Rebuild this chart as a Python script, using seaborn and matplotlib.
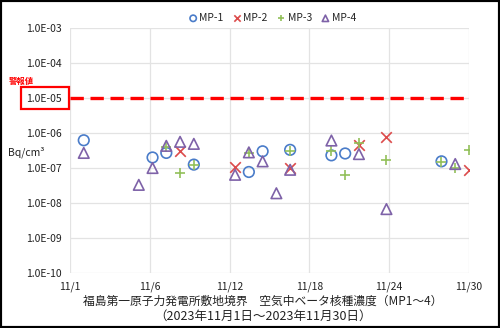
import matplotlib
matplotlib.use("Agg")
import matplotlib.pyplot as plt
import seaborn as sns
import pandas as pd
import numpy as np
from matplotlib.patches import Rectangle

# ---- data ----
mp1_dates = ["11/2", "11/7", "11/8", "11/10", "11/14", "11/15", "11/17", "11/20", "11/21", "11/28"]
mp1_vals = [6.2e-7, 2.0e-7, 2.7e-7, 1.25e-7, 7.7e-8, 3.0e-7, 3.3e-7, 2.3e-7, 2.6e-7, 1.55e-7]

mp2_dates = ["11/9", "11/13", "11/17", "11/22", "11/24", "11/30"]
mp2_vals = [3.1e-7, 1.04e-7, 1.0e-7, 4.6e-7, 7.7e-7, 8.9e-8]

mp3_dates = ["11/8", "11/9", "11/10", "11/14", "11/17", "11/20", "11/21", "11/22", "11/24", "11/28", "11/29", "11/30"]
mp3_vals = [4.0e-7, 7.2e-8, 1.25e-7, 2.7e-7, 3.1e-7, 3.0e-7, 6.4e-8, 5.2e-7, 1.65e-7, 1.5e-7, 1.0e-7, 3.3e-7]

mp4_dates = ["11/2", "11/6", "11/7", "11/8", "11/9", "11/10", "11/13", "11/14", "11/15", "11/16", "11/17", "11/20", "11/22", "11/24", "11/29"]
mp4_vals = [2.7e-7, 3.3e-8, 1.0e-7, 4.3e-7, 5.6e-7, 4.9e-7, 6.4e-8, 2.8e-7, 1.55e-7, 1.9e-8, 8.9e-8, 6.1e-7, 2.5e-7, 6.7e-9, 1.3e-7]

series_names = ["MP-1", "MP-2", "MP-3", "MP-4"]
alarm_value = 1.0e-5
x_tick_labels = ["11/1", "11/6", "11/12", "11/18", "11/24", "11/30"]
y_tick_labels = ["1.0E-10", "1.0E-09", "1.0E-08", "1.0E-07", "1.0E-06", "1.0E-05", "1.0E-04", "1.0E-03"]
y_unit = "Bq/cm³"
alarm_label = "警報値"
title_line1 = "福島第一原子力発電所敷地境界　空気中ベータ核種濃度（MP1～4）"
title_line2 = "（2023年11月1日～2023年11月30日）"

def to_days(dates):
    return [int(d.split("/")[1]) - 1 for d in dates]

frames = []
for name, d, v in zip(series_names, [mp1_dates, mp2_dates, mp3_dates, mp4_dates],
                      [mp1_vals, mp2_vals, mp3_vals, mp4_vals]):
    frames.append(pd.DataFrame({"day": to_days(d), "value": v, "series": name}))
df = pd.concat(frames, ignore_index=True)

# ---- styling ----
sns.set_theme(style="white")
plt.rcParams["font.family"] = ["Noto Sans CJK JP", "DejaVu Sans"]

colors = {"MP-1": "#4A7CC9", "MP-2": "#DC4B4B", "MP-3": "#92C05A", "MP-4": "#7E62A8"}
markers = {"MP-1": "o", "MP-2": "x", "MP-3": "+", "MP-4": "^"}

fig = plt.figure(figsize=(5.0, 3.28), dpi=100)
ax = fig.add_axes([0.14, 0.1677, 0.798, 0.7469])

for name in series_names:
    sub = df[df["series"] == name]
    m = markers[name]
    c = colors[name]
    if m in ("o", "^"):
        sns.scatterplot(data=sub, x="day", y="value", marker=m, s=58,
                        facecolor="none", edgecolor=c, linewidth=1.2,
                        ax=ax, label=name, zorder=3)
    else:
        sns.scatterplot(data=sub, x="day", y="value", marker=m, s=58,
                        color=c, linewidth=1.2, ax=ax, label=name, zorder=3)

ax.set_yscale("log")
ax.set_ylim(1e-10, 1e-3)
ax.set_xlim(0, 29)
ax.set_xticks(np.linspace(0, 29, len(x_tick_labels)))
ax.set_xticklabels(x_tick_labels)
ax.set_yticks([10.0 ** k for k in range(-10, -2)])
ax.set_yticklabels(y_tick_labels)
ax.minorticks_off()
ax.set_xlabel("")
ax.set_ylabel("")
ax.grid(True, color="#E3E3E3", linewidth=0.9)
for s in ax.spines.values():
    s.set_visible(False)
ax.tick_params(axis="both", length=0, labelsize=7.5, colors="#222222")
ax.tick_params(axis="y", pad=6)
ax.tick_params(axis="x", pad=6)

# alarm line
ax.axhline(alarm_value, color="#FF0000", linewidth=2.4, dashes=(4, 2), zorder=2)

# legend
handles, labels = ax.get_legend_handles_labels()
ax.legend(handles, labels, loc="center", bbox_to_anchor=(0.544, 0.945),
          bbox_transform=fig.transFigure, ncol=4, frameon=False, fontsize=7.5,
          handletextpad=0.1, columnspacing=0.8, markerscale=0.6, handlelength=1.0)

# texts
W, H = 500, 328
fig.text(8 / W, 1 - 152 / H, y_unit, fontsize=7.5, ha="left", va="center", color="#222222")
fig.text(9 / W, 1 - 81 / H, alarm_label, fontsize=6, ha="left", va="center",
         color="#FF0000", fontweight="bold")
fig.patches.append(Rectangle((21 / W, 1 - 109 / H), 48 / W, 22 / H, transform=fig.transFigure,
                             fill=False, edgecolor="#FF0000", linewidth=1.6))
fig.text(263 / W, 1 - 301 / H, title_line1, fontsize=8.5, ha="center", va="center", color="#222222")
fig.text(263 / W, 1 - 316 / H, title_line2, fontsize=9, ha="center", va="center", color="#222222")

# outer frame
fig.patches.append(Rectangle((0, 0), 1, 1, transform=fig.transFigure, fill=False,
                             edgecolor="black", linewidth=3))

fig.savefig("out.png", dpi=100)
